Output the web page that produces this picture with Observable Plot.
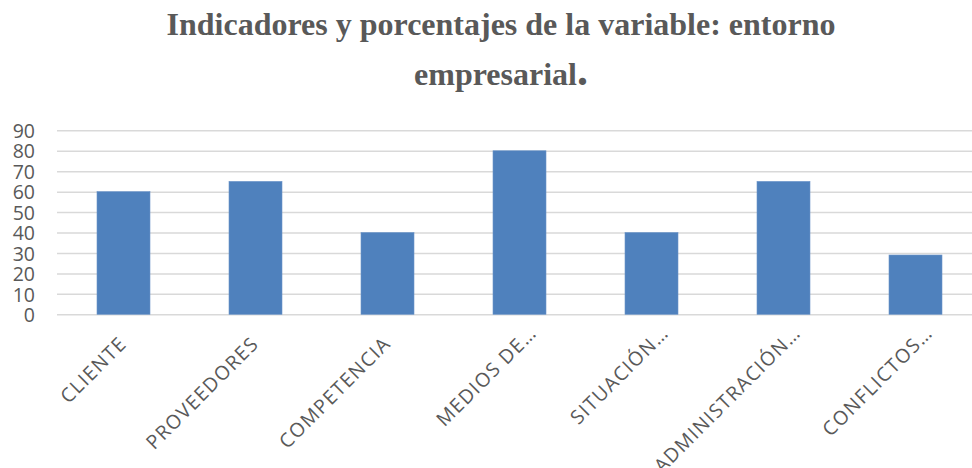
<!DOCTYPE html>
<html>
<head>
<meta charset="utf-8">
<script src="https://cdn.jsdelivr.net/npm/d3@7"></script>
<script src="https://cdn.jsdelivr.net/npm/@observablehq/plot@0.6"></script>
<style>
  html, body { margin: 0; padding: 0; background: #fff; }
  #wrap { position: relative; width: 972px; height: 468px; overflow: hidden; background: #fff; }
  #title {
    position: absolute; top: -1px; left: 0; width: 972px; box-sizing: border-box;
    padding-left: 30px; text-align: center;
    font-family: "Liberation Serif", "Times New Roman", serif; font-weight: 700;
    font-size: 32px; line-height: 50px; color: #595959;
  }
  #title .dot { font-size: 44px; line-height: 0; }
  #chart { position: absolute; top: 100px; left: 0; }
</style>
</head>
<body>
<div id="wrap">
  <div id="title">Indicadores y porcentajes de la variable: entorno<br>empresarial<span class="dot">.</span></div>
  <div id="chart"></div>
</div>
<script>
const categories = ["CLIENTE", "PROVEEDORES", "COMPETENCIA", "MEDIOS DE…", "SITUACIÓN…", "ADMINISTRACIÓN…", "CONFLICTOS…"];
const values = [60, 65, 40, 80, 40, 65, 29];
const yTicks = [0, 10, 20, 30, 40, 50, 60, 70, 80, 90];

const data = categories.map((c, i) => ({category: c, value: values[i]}));
const fullLabels = categories.filter(c => !c.endsWith("…"));
const truncatedLabels = categories.filter(c => c.endsWith("…"));

const labelStyle = {tickSize: 0, tickRotate: -45, fontSize: 19.5, fontFamily: "Open Sans", fill: "#595959", label: null};

const plot = Plot.plot({
  width: 972,
  height: 368,
  marginLeft: 57,
  marginRight: 0,
  marginTop: 30.3,
  marginBottom: 153.7,
  style: {background: "transparent", color: "#595959", overflow: "visible"},
  x: {domain: categories, range: [56.9, 982.3], paddingInner: 0.6, paddingOuter: 0.3, align: 0.5},
  y: {domain: [0, 90]},
  marks: [
    Plot.gridY(yTicks, {stroke: "#d9d9d9", strokeOpacity: 1, strokeWidth: 1.5}),
    Plot.barY(data, {x: "category", y: "value", fill: "#4F81BD", stroke: "#6b94c8", strokeWidth: 0.6}),
    Plot.axisY(yTicks, {tickSize: 0, tickPadding: 22.5, fontSize: 19.5, fontFamily: "Open Sans", fill: "#595959", dy: 1, label: null}),
    Plot.axisX(fullLabels, {...labelStyle, tickPadding: 25.7, dx: -0.5}),
    Plot.axisX(truncatedLabels, {...labelStyle, tickPadding: 15, dx: 13.5})
  ]
});
document.getElementById("chart").appendChild(plot);
d3.select(plot).selectAll('g[aria-label="x-axis tick label"] text').attr("letter-spacing", "1.3px");
</script>
</body>
</html>
